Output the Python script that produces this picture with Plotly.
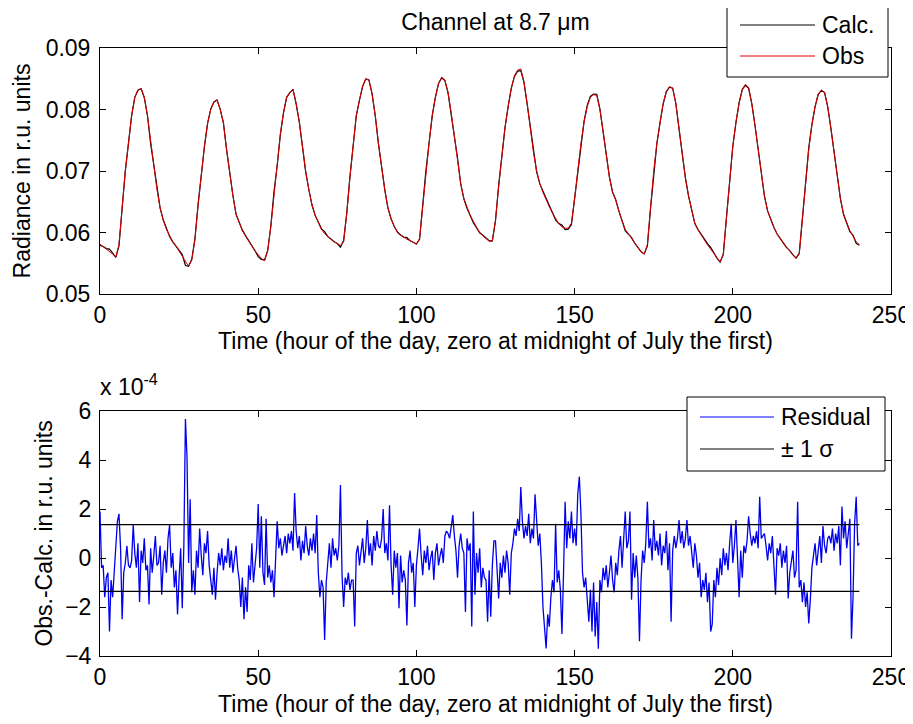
import numpy as np
import plotly.graph_objects as go

# ---------------- data ----------------
obs_step_hours = 1.0
obs = [
    0.0581, 0.0577, 0.0573, 0.0570, 0.0565, 0.0560, 0.0580, 0.0640, 0.0700, 0.0745,
    0.0790, 0.0820, 0.0832, 0.0834, 0.0820, 0.0790, 0.0745, 0.0710, 0.0670, 0.0640,
    0.0620, 0.0605, 0.0595, 0.0585, 0.0578, 0.0570, 0.0562, 0.0552, 0.0545, 0.0555,
    0.0588, 0.0645, 0.0695, 0.0740, 0.0778, 0.0800, 0.0812, 0.0815, 0.0800, 0.0778,
    0.0735, 0.0696, 0.0660, 0.0630, 0.0615, 0.0603, 0.0594, 0.0587, 0.0578, 0.0570,
    0.0563, 0.0558, 0.0554, 0.0570, 0.0610, 0.0665, 0.0710, 0.0760, 0.0795, 0.0820,
    0.0828, 0.0833, 0.0810, 0.0780, 0.0740, 0.0700, 0.0670, 0.0645, 0.0628, 0.0615,
    0.0605, 0.0598, 0.0593, 0.0589, 0.0585, 0.0582, 0.0579, 0.0585, 0.0631, 0.0690,
    0.0745, 0.0790, 0.0815, 0.0838, 0.0850, 0.0848, 0.0825, 0.0790, 0.0745, 0.0705,
    0.0670, 0.0640, 0.0622, 0.0610, 0.0601, 0.0596, 0.0592, 0.0589, 0.0587, 0.0584,
    0.0581, 0.0590, 0.0645, 0.0700, 0.0745, 0.0790, 0.0820, 0.0842, 0.0852, 0.0848,
    0.0828, 0.0795, 0.0755, 0.0720, 0.0680, 0.0655, 0.0640, 0.0628, 0.0618, 0.0608,
    0.0600, 0.0595, 0.0590, 0.0586, 0.0586, 0.0620, 0.0675, 0.0725, 0.0770, 0.0805,
    0.0835, 0.0855, 0.0864, 0.0866, 0.0845, 0.0810, 0.0770, 0.0730, 0.0700, 0.0680,
    0.0665, 0.0652, 0.0642, 0.0632, 0.0622, 0.0614, 0.0609, 0.0607, 0.0607, 0.0615,
    0.0655, 0.0705, 0.0745, 0.0780, 0.0805, 0.0820, 0.0824, 0.0823, 0.0800, 0.0765,
    0.0725, 0.0690, 0.0665, 0.0653, 0.0635, 0.0620, 0.0605, 0.0598, 0.0590, 0.0582,
    0.0574, 0.0568, 0.0565, 0.0580, 0.0640, 0.0700, 0.0745, 0.0780, 0.0810, 0.0830,
    0.0837, 0.0835, 0.0810, 0.0770, 0.0730, 0.0690, 0.0660, 0.0635, 0.0615, 0.0604,
    0.0595, 0.0588, 0.0580, 0.0573, 0.0566, 0.0558, 0.0552, 0.0565, 0.0625, 0.0690,
    0.0740, 0.0780, 0.0810, 0.0832, 0.0840, 0.0836, 0.0810, 0.0775, 0.0735, 0.0695,
    0.0660, 0.0635, 0.0620, 0.0608, 0.0598, 0.0590, 0.0583, 0.0576, 0.0570, 0.0564,
    0.0558, 0.0565, 0.0620, 0.0685, 0.0735, 0.0775, 0.0805, 0.0825, 0.0831, 0.0828,
    0.0805, 0.0770, 0.0730, 0.0690, 0.0655, 0.0630, 0.0615, 0.0603, 0.0594, 0.0585,
    0.0580,
]

residual_step_hours = 0.5
# Obs. - Calc. in units of 1e-4
residual_e4 = [
    1.9, -0.4, -0.3, -1.6, -0.8, -0.6, -3.0, -0.9, -1.6, -0.7,
    0.5, 1.5, 1.8, 0.4, -2.5, -0.6, -0.2, 0.5, -0.3, -0.4,
    -0.1, 1.35, 0.2, -0.4, 0.6, -1.8, 0.3, -0.2, 0.8, -0.5,
    -0.3, -1.9, 0.4, -0.6, 0.1, 0.9, -0.3, -0.2, 0.5, -1.5,
    -0.2, 0.3, -0.6, 0.8, 1.35, -0.4, 0.2, -1.2, -0.5, -2.3,
    -0.8, 0.4, -2.05, 0.5, 5.67, 4.1, -0.2, 2.4, -1.4, -0.5,
    -1.5, 0.3, -0.4, 1.2, 0.1, -0.7, 0.6, 0.2, 1.1, -0.3,
    -0.9, -1.5, -0.4, -1.7, -0.6, 0.2, -0.3, 0.4, -0.5, 0.1,
    -0.2, 0.8, -0.4, 0.3, -0.6, -0.1, 0.5, -0.4, -0.9, -2.0,
    -0.8, -2.5, -1.2, -2.2, -0.3, -0.9, 0.6, -1.0, -0.2, 0.4,
    2.2, -0.4, 1.7, -0.6, -1.1, 1.6, -0.8, -0.3, -1.0, -0.5,
    -1.6, 0.2, 1.5, 0.4, 0.8, 0.1, 0.5, 0.9, 0.2, 1.0,
    0.6, 1.1, 0.3, 2.65, 1.1, 0.4, 0.9, -0.1, 0.7, 0.2,
    1.3, 0.5, 0.1, 0.8, 0.3, 1.0, 0.2, 1.75, -0.6, -1.6,
    -0.9, -1.2, -3.35, -1.0, -0.2, 0.6, -0.4, 0.8, 0.1, 0.4,
    -0.1, 0.5, 2.98, -0.7, -2.0, -0.8, -1.1, -0.6, -1.3, -0.9,
    -0.9, -2.8, 0.2, 0.5, -0.3, 0.3, 0.8, -0.2, 0.4, 1.55,
    0.1, 0.6, -0.3, 0.9, 0.3, 1.1, 0.5, 0.4, 0.8, 2.0,
    0.2, 0.6, -0.1, 2.15, -0.3, -1.5, 0.3, -0.4, 0.2, -2.05,
    0.1, -1.0, -0.5, -0.9, -2.75, -0.2, 0.3, -0.6, -0.2, -2.0,
    -0.3, 0.4, 1.2, 0.1, -0.7, 0.3, -0.2, 0.5, -0.5, 0.0,
    0.3, -0.9, 0.2, 0.6, -0.3, 0.1, 0.4, -0.2, 0.9, 1.1,
    1.0, 0.8, 1.2, 1.75, 0.9, 0.3, -0.8, 0.5, 1.0, 0.4,
    0.2, -2.2, 0.8, 0.3, 0.6, -2.8, 1.9, -1.5, 0.2, -0.6,
    0.4, -1.2, -0.4, -0.8, -0.9, -2.6, -0.5, -2.4, -0.3, 0.7,
    0.7, -0.4, -1.65, -0.2, -0.8, 0.1, -0.6, 0.3, -0.2, -1.5,
    0.2, 0.6, 1.2, 0.9, 1.6, 1.1, 2.9, 1.5, 0.8, 1.3,
    0.9, 1.8, 0.6, 1.2, 0.8, 2.6, 1.3, 0.5, 1.0, -0.2,
    -2.0, -2.9, -3.69, -2.3, -2.8, -1.6, -0.9, -1.4, 1.4, -1.0,
    -0.5, -1.3, -3.1, -0.6, 2.3, 0.4, 1.5, 0.8, 1.9, 0.6,
    1.2, 0.5, 2.6, 3.32, 1.8, -0.6, -1.2, -0.8, -1.9, -2.6,
    -1.3, -3.0, -1.0, -3.2, -1.8, -3.7, -0.9, -1.4, -0.4, -0.9,
    -0.3, -1.2, -0.6, 0.1, -0.9, -1.4, -0.2, -0.7, 0.3, 0.9,
    -0.4, 0.6, 1.9, 0.4, 0.7, 1.9, -1.7, 0.2, -0.8, 0.1,
    -0.8, -3.4, -0.9, 0.3, -0.2, 0.6, 2.3, 0.4, 0.8, -0.1,
    1.55, 0.3, 0.7, 0.1, 1.0, -0.3, 0.5, 0.2, 1.1, -0.5,
    0.6, -2.6, 0.3, 0.9, 0.4, 0.8, 1.55, 0.6, 1.1, 0.4,
    0.8, 1.55, 0.5, 0.9, 0.2, -0.4, 0.6, 0.1, -0.8, -0.2,
    -1.6, -0.9, -1.3, -0.6, -1.8, -1.0, -3.0, -2.7, -0.9, -1.6,
    -0.4, -1.1, 0.0, -0.7, 0.4, -0.3, 0.2, -0.5, 0.6, 1.4,
    -0.2, 0.5, 1.55, -0.4, -1.6, 0.3, -0.8, 0.5, 0.2, 0.7,
    1.7, 1.0, 0.5, 0.9, 0.6, 1.1, 0.4, 2.5, 0.8, 0.9,
    1.0, 0.5, -0.1, 0.6, 0.2, 0.9, -0.3, -1.5, 0.4, 0.1,
    0.6, -0.4, 0.3, -0.2, 0.5, -1.65, -0.6, -0.2, 0.3, -0.8,
    -0.5, 2.3, -1.2, -0.9, -1.8, -1.0, -2.0, -1.4, -2.67, -1.7,
    -0.4, 0.1, 0.6, -0.3, 0.4, 0.9, -0.2, 1.3, 0.5, 0.2,
    0.8, 0.9, 0.6, 1.2, 0.3, 1.0, 0.6, 1.3, -0.3, 2.1,
    0.8, 1.5, 0.4, 1.1, 1.6, -3.3, -1.6, 1.4, 2.5, 0.5,
    0.6,
]
sigma_e4 = 1.36

x_ticks = [0, 50, 100, 150, 200, 250]
top_y_ticks = [0.05, 0.06, 0.07, 0.08, 0.09]
bottom_y_ticks = [-4, -2, 0, 2, 4, 6]

title_text = "Channel at 8.7 μm"
x_title = "Time (hour of the day, zero at midnight of July the first)"
top_y_title = "Radiance in r.u. units"
bottom_y_title = "Obs.-Calc. in r.u. units"

# ---------------- derived series ----------------
obs_arr = np.array(obs)
t_obs = np.arange(len(obs_arr)) * obs_step_hours
res_arr = np.array(residual_e4)
t_res = np.arange(len(res_arr)) * residual_step_hours
ratio = int(round(obs_step_hours / residual_step_hours))
res_at_obs = res_arr[::ratio][: len(obs_arr)]
n = min(len(res_at_obs), len(obs_arr))
calc_arr = obs_arr.copy()
calc_arr[:n] = obs_arr[:n] - res_at_obs[:n] * 1e-4

t_end = float(t_res[-1])

# ---------------- layout geometry ----------------
# The page places the figure 8 px from the window's top-left corner,
# so the figure is 8 px smaller and all window coordinates are shifted.
OFF = 8
W, H = 913 - OFF, 724 - OFF
L, R, T, B = 100 - OFF, 891 - OFF, 48 - OFF, 656 - OFF


def fx(px):
    return (px - OFF - L) / (R - L)


def fy(py):
    return (B - (py - OFF)) / (B - T)


FONT = "Liberation Sans, Arial, sans-serif"
FS = 23

fig = go.Figure()

fig.add_trace(go.Scatter(x=t_obs, y=calc_arr, mode="lines", name="Calc.",
                         line=dict(color="black", width=1.2), showlegend=False,
                         xaxis="x", yaxis="y"))
fig.add_trace(go.Scatter(x=t_obs, y=obs_arr, mode="lines", name="Obs",
                         line=dict(color="#e00000", width=1), showlegend=False,
                         xaxis="x", yaxis="y"))
fig.add_trace(go.Scatter(x=t_res, y=res_arr, mode="lines", name="Residual",
                         line=dict(color="#0000ee", width=1.3), showlegend=False,
                         xaxis="x2", yaxis="y2"))
fig.add_trace(go.Scatter(x=[0, t_end, None, 0, t_end],
                         y=[sigma_e4, sigma_e4, None, -sigma_e4, -sigma_e4],
                         mode="lines", name="± 1 σ",
                         line=dict(color="black", width=1.2), showlegend=False,
                         xaxis="x2", yaxis="y2"))

axis_common = dict(showline=True, linecolor="black", linewidth=1, mirror="ticks",
                   ticks="inside", ticklen=6, tickcolor="black", showgrid=False,
                   zeroline=False, automargin=False,
                   tickfont=dict(family=FONT, size=FS, color="black"))

fig.update_layout(
    width=W, height=H,
    margin=dict(l=L, r=W - R, t=T, b=H - B, pad=0, autoexpand=False),
    paper_bgcolor="white", plot_bgcolor="white",
    font=dict(family=FONT, size=FS, color="black"),
    showlegend=False,
    title=dict(text=title_text, x=0.5, xref="paper", xanchor="center",
               y=1 - (22 - OFF) / H, yref="container", yanchor="middle",
               font=dict(family=FONT, size=FS, color="black")),
    xaxis=dict(domain=[0, 1], range=[0, 250], tickvals=x_ticks, anchor="y",
               title=dict(text=x_title, standoff=0, font=dict(family=FONT, size=FS)),
               **axis_common),
    yaxis=dict(domain=[fy(294), 1], range=[0.05, 0.09], tickvals=top_y_ticks,
               tickformat=".2f", anchor="x", ticklabelstandoff=4,
               title=dict(text=top_y_title, standoff=8, font=dict(family=FONT, size=FS)),
               **axis_common),
    xaxis2=dict(domain=[0, 1], range=[0, 250], tickvals=x_ticks, anchor="y2",
                title=dict(text=x_title, standoff=7, font=dict(family=FONT, size=FS)),
                **axis_common),
    yaxis2=dict(domain=[0, fy(411)], range=[-4, 6], tickvals=bottom_y_ticks,
                anchor="x2", ticklabelstandoff=3,
                title=dict(text=bottom_y_title, standoff=6, font=dict(family=FONT, size=FS)),
                **axis_common),
)

# exponent label
fig.add_annotation(text="x 10<sup>-4</sup>", xref="paper", yref="paper",
                   x=fx(98), y=fy(402), xanchor="left", yanchor="bottom",
                   showarrow=False, font=dict(family=FONT, size=FS, color="black"))

# ---------------- manual legends ----------------
shapes = []


def legend_box(x0, y0, x1, y1, entries, line_x0, line_x1, text_x):
    shapes.append(dict(type="rect", xref="paper", yref="paper",
                       x0=fx(x0), x1=fx(x1), y0=fy(y1), y1=fy(y0),
                       line=dict(color="black", width=1), fillcolor="white",
                       layer="above"))
    for label, color, ypx in entries:
        shapes.append(dict(type="line", xref="paper", yref="paper",
                           x0=fx(line_x0), x1=fx(line_x1), y0=fy(ypx), y1=fy(ypx),
                           line=dict(color=color, width=1), layer="above"))
        fig.add_annotation(text=label, xref="paper", yref="paper",
                           x=fx(text_x), y=fy(ypx), xanchor="left", yanchor="middle",
                           showarrow=False,
                           font=dict(family=FONT, size=FS, color="black"))


legend_box(727, 5, 888, 77, [("Calc.", "black", 25), ("Obs", "#e00000", 56)],
           740, 815, 820)
legend_box(687, 397, 885, 471, [("Residual", "#0000ff", 417), ("± 1 σ", "black", 449)],
           700, 774, 779)

fig.update_layout(shapes=shapes)

fig.write_html("out.html")
